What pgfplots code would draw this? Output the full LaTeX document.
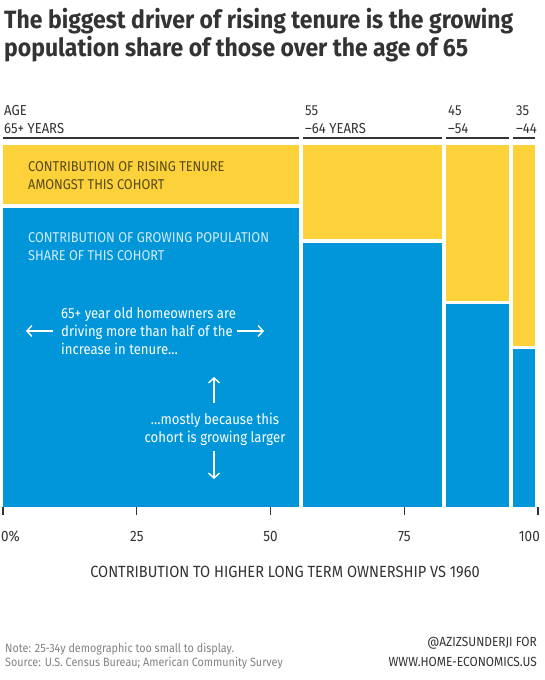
\documentclass[border=0pt]{standalone}
\usepackage{fontspec}
\setmainfont{Fira Sans}[FakeStretch=0.9]
\newfontfamily\titlefont{Fira Sans}[FakeStretch=0.92]
\usepackage{pgfplots}
\pgfplotsset{compat=1.18}
\usetikzlibrary{arrows.meta}
\definecolor{wsjyellow}{RGB}{252,209,58}
\definecolor{wsjblue}{RGB}{0,150,217}
\definecolor{txt}{RGB}{51,51,51}
\definecolor{ytxt}{RGB}{88,74,30}
\definecolor{btxt}{RGB}{210,235,248}
\definecolor{foot}{RGB}{130,130,130}
\begin{document}
\begin{tikzpicture}
\begin{axis}[
  at={(3pt,-507pt)}, anchor=south west,
  scale only axis, width=535pt, height=362pt,
  xmin=0, xmax=100, ymin=0, ymax=100,
  clip=false,
  axis line style={draw=none},
  axis x line*=bottom, axis y line=none,
  ytick=\empty,
  xtick={0,25,50,75,100}, xticklabels={,,,,},
  tick align=outside, major tick length=8pt,
  x tick style={draw=txt, line width=1.3pt},
]
% blue: contribution of growing population share
\addplot[fill=wsjblue, draw=none] coordinates {(0,0) (55.3,0) (55.3,82.6) (0,82.6)} -- cycle;
\addplot[fill=wsjblue, draw=none] coordinates {(56.1,0) (82.1,0) (82.1,72.9) (56.1,72.9)} -- cycle;
\addplot[fill=wsjblue, draw=none] coordinates {(82.8,0) (94.6,0) (94.6,56.1) (82.8,56.1)} -- cycle;
\addplot[fill=wsjblue, draw=none] coordinates {(95.3,0) (99.4,0) (99.4,43.6) (95.3,43.6)} -- cycle;
% yellow: contribution of rising tenure
\addplot[fill=wsjyellow, draw=none] coordinates {(0,83.7) (55.3,83.7) (55.3,100) (0,100)} -- cycle;
\addplot[fill=wsjyellow, draw=none] coordinates {(56.1,74.0) (82.1,74.0) (82.1,100) (56.1,100)} -- cycle;
\addplot[fill=wsjyellow, draw=none] coordinates {(82.8,56.9) (94.6,56.9) (94.6,100) (82.8,100)} -- cycle;
\addplot[fill=wsjyellow, draw=none] coordinates {(95.3,44.5) (99.4,44.5) (99.4,100) (95.3,100)} -- cycle;
% header rules
\addplot[draw=txt, line width=2pt] coordinates {(0,101.9) (55.3,101.9)};
\addplot[draw=txt, line width=2pt] coordinates {(56.1,101.9) (82.1,101.9)};
\addplot[draw=txt, line width=2pt] coordinates {(82.8,101.9) (94.6,101.9)};
\addplot[draw=txt, line width=2pt] coordinates {(95.3,101.9) (99.4,101.9)};
\end{axis}
\begin{scope}[x=1pt, y=-1pt]
% title
\node[anchor=base west, inner sep=0, text=txt, font=\titlefont\bfseries\fontsize{25}{30}\selectfont] at (4,28) {The biggest driver of rising tenure is the growing};
\node[anchor=base west, inner sep=0, text=txt, font=\titlefont\bfseries\fontsize{25}{30}\selectfont] at (4,56) {population share of those over the age of 65};
% age labels
\begin{scope}[every node/.style={anchor=base west, inner sep=0, text=txt, font=\fontsize{14.5}{16}\selectfont}]
\node at (4,115) {AGE};
\node at (4,133) {65+ YEARS};
\node at (305,115) {55};
\node at (305,133) {–64 YEARS};
\node at (448,115) {45};
\node at (448,133) {–54};
\node at (516,115) {35};
\node at (516,133) {–44};
\end{scope}
% inner labels
\begin{scope}[every node/.style={anchor=base west, inner sep=0, font=\fontsize{14.2}{16}\selectfont}]
\node[text=ytxt] at (28,171) {CONTRIBUTION OF RISING TENURE};
\node[text=ytxt] at (28,189) {AMONGST THIS COHORT};
\node[text=btxt] at (28,242) {CONTRIBUTION OF GROWING POPULATION};
\node[text=btxt] at (28,260) {SHARE OF THIS COHORT};
\end{scope}
% annotations
\begin{scope}[every node/.style={inner sep=0, text=white, font=\fontsize{14.6}{17}\selectfont}]
\node[anchor=base west] at (61,318) {65+ year old homeowners are};
\node[anchor=base west] at (61,336) {driving more than half of the};
\node[anchor=base west] at (61,354) {increase in tenure…};
\node[anchor=base] at (215,424) {…mostly because this};
\node[anchor=base] at (215,442) {cohort is growing larger};
\end{scope}
\begin{scope}[white, line width=1.4pt, -{Straight Barb[length=5pt, width=11pt]}]
\draw (53,331) -- (26,331);
\draw (237,331) -- (264,331);
\draw (214,403) -- (214,377);
\draw (214,451) -- (214,479);
\end{scope}
% tick labels
\begin{scope}[every node/.style={inner sep=0, text=txt, font=\fontsize{15}{17}\selectfont}]
\node[anchor=base west] at (1,541) {0\%};
\node[anchor=base] at (136.8,541) {25};
\node[anchor=base] at (270.5,541) {50};
\node[anchor=base] at (404.3,541) {75};
\node[anchor=base east] at (540,541) {100};
\end{scope}
\node[anchor=base, inner sep=0, text=txt, font=\fontsize{16.2}{18}\selectfont] at (285,577) {CONTRIBUTION TO HIGHER LONG TERM OWNERSHIP VS 1960};
% footer
\begin{scope}[every node/.style={inner sep=0, font=\fontsize{12}{14}\selectfont}]
\node[anchor=base west, text=foot] at (5,652) {Note: 25-34y demographic too small to display.};
\node[anchor=base west, text=foot] at (5,666) {Source: U.S. Census Bureau; American Community Survey};
\end{scope}
\begin{scope}[every node/.style={inner sep=0, text=txt, font=\fontsize{13.2}{15}\selectfont}]
\node[anchor=base east] at (537,646) {@AZIZSUNDERJI FOR};
\node[anchor=base east] at (537,666) {WWW.HOME-ECONOMICS.US};
\end{scope}
\pgfresetboundingbox
\path[use as bounding box] (0,0) rectangle (544,680);
\end{scope}
\end{tikzpicture}
\end{document}
